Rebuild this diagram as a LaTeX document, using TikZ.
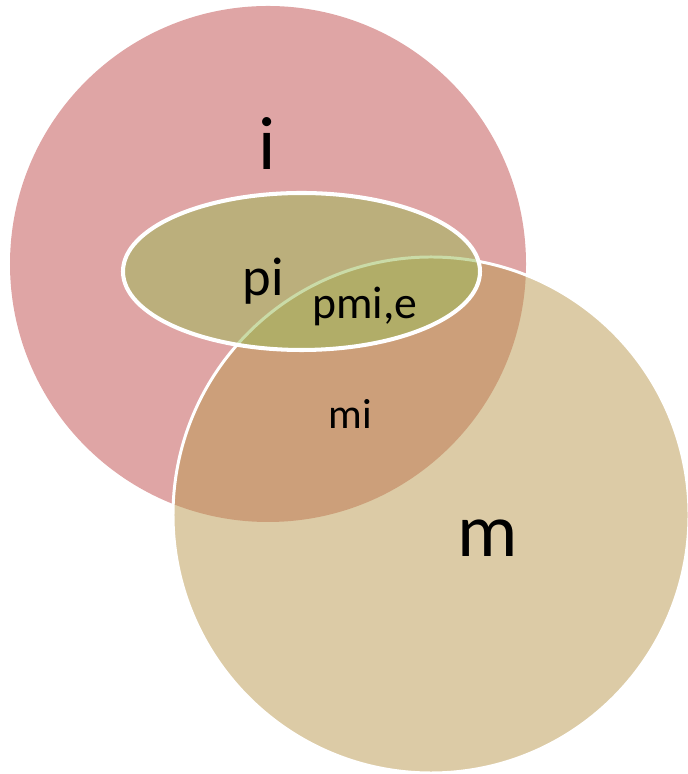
\documentclass[tikz,border=0pt]{standalone}
\usepackage{fontspec}
\setmainfont{Carlito}
\usepackage{xcolor}
\usepackage{tikz}
\usetikzlibrary{shapes.geometric}
\definecolor{setipink}{RGB}{223,165,165}
\definecolor{setmtan}{RGB}{188,155,84}
\definecolor{setpolive}{RGB}{154,186,88}

\begin{document}
\begin{tikzpicture}[
  setlabel/.style={anchor=base, inner sep=0pt, text=black},
  iset/.style={circle, fill=setipink, minimum size=10.32cm},
  mset/.style={circle, fill=setmtan, fill opacity=0.52, draw=white, line width=1.7pt, minimum size=10.32cm},
  pset/.style={ellipse, fill=setpolive, fill opacity=0.52, draw=white, line width=2.3pt, minimum width=7.14cm, minimum height=3.14cm, inner sep=0pt}
]
\useasboundingbox (0,0) rectangle (13.74,15.48);

\node[iset] (seti) at (5.36,10.2) {};
\node[mset] (setm) at (8.62,5.18) {};
\node[pset] (setp) at (6.03,10.05) {};

\node[setlabel, font=\fontsize{43}{46}\selectfont] (labi) at (5.34,12.08) {i};
\node[setlabel, font=\fontsize{43}{46}\selectfont] (labm) at (9.76,4.34) {m};
\node[setlabel, font=\fontsize{31}{34}\selectfont] (labpi) at (5.26,9.56) {pi};
\node[setlabel, font=\fontsize{26}{29}\selectfont] (labpmie) at (7.3,9.1) {pmi,e};
\node[setlabel, font=\fontsize{24}{27}\selectfont] (labmi) at (7.0,6.9) {mi};
\end{tikzpicture}
\end{document}
